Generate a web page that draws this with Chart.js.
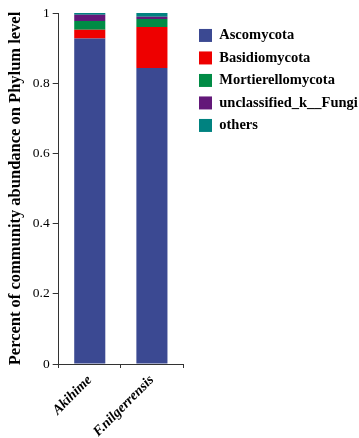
<!DOCTYPE html>
<html>
<head>
<meta charset="utf-8">
<script src="https://cdn.jsdelivr.net/npm/chart.js@4"></script>
<style>
  html, body { margin: 0; padding: 0; background: #fff; }
  #wrap { width: 359px; height: 438px; }
</style>
</head>
<body>
<div id="wrap"><canvas id="phylumChart" width="359" height="438"></canvas></div>
<script>
const samples = ['Akihime', 'F.nilgerrensis'];
const phyla = ['Ascomycota', 'Basidiomycota', 'Mortierellomycota', 'unclassified_k__Fungi', 'others'];
const ascomycota = [0.927, 0.843];
const basidiomycota = [0.025, 0.117];
const mortierellomycota = [0.025, 0.023];
const unclassifiedFungi = [0.018, 0.006];
const others = [0.005, 0.011];
const yTicks = [0, 0.2, 0.4, 0.6, 0.8, 1];

const colors = ['#3B4992', '#EE0000', '#008B45', '#631879', '#008280'];
const series = [ascomycota, basidiomycota, mortierellomycota, unclassifiedFungi, others];

const serif = '"Liberation Serif", "Times New Roman", serif';

// push the legend a bit away from the plot
const legendShift = {
    id: 'legendShift',
    afterLayout(chart) {
        chart.legend.left += 8;
        chart.legend.right += 8;
    }
};

new Chart(document.getElementById('phylumChart'), {
    type: 'bar',
    data: {
        labels: samples,
        datasets: phyla.map((name, i) => ({
            label: name,
            data: series[i],
            backgroundColor: colors[i],
            borderWidth: 0,
            barPercentage: 0.5,
            categoryPercentage: 1
        }))
    },
    options: {
        responsive: false,
        animation: false,
        layout: {
            padding: { top: 13, right: 0, left: 2, bottom: 0 }
        },
        scales: {
            x: {
                stacked: true,
                afterFit: scale => { scale.height = 74; },
                grid: { drawOnChartArea: false, tickLength: 4, color: '#333' },
                border: { color: '#333', width: 1 },
                ticks: {
                    minRotation: 45,
                    maxRotation: 45,
                    color: '#000',
                    padding: 4,
                    font: { family: serif, size: 14, weight: 'bold', style: 'italic' }
                }
            },
            y: {
                stacked: true,
                min: 0,
                max: 1,
                afterBuildTicks: axis => {
                    axis.ticks = yTicks.map(v => ({ value: v }));
                },
                grid: { drawOnChartArea: false, tickLength: 6, color: '#333' },
                border: { color: '#333', width: 1 },
                ticks: {
                    color: '#000',
                    padding: 3,
                    font: { family: serif, size: 13.5 },
                    callback: v => String(v)
                },
                title: {
                    display: true,
                    text: 'Percent of community abundance on Phylum level',
                    color: '#000',
                    padding: 4,
                    font: { family: serif, size: 16.5, weight: 'bold' }
                }
            }
        },
        plugins: {
            legend: {
                position: 'right',
                align: 'start',
                maxWidth: 176,
                title: {
                    display: true,
                    text: ' ',
                    padding: 0,
                    font: { size: 6 }
                },
                labels: {
                    boxWidth: 13,
                    boxHeight: 13,
                    padding: 8,
                    color: '#000',
                    font: { family: serif, size: 14.5, weight: 'bold' }
                }
            },
            tooltip: { enabled: false }
        }
    },
    plugins: [legendShift]
});
</script>
</body>
</html>
